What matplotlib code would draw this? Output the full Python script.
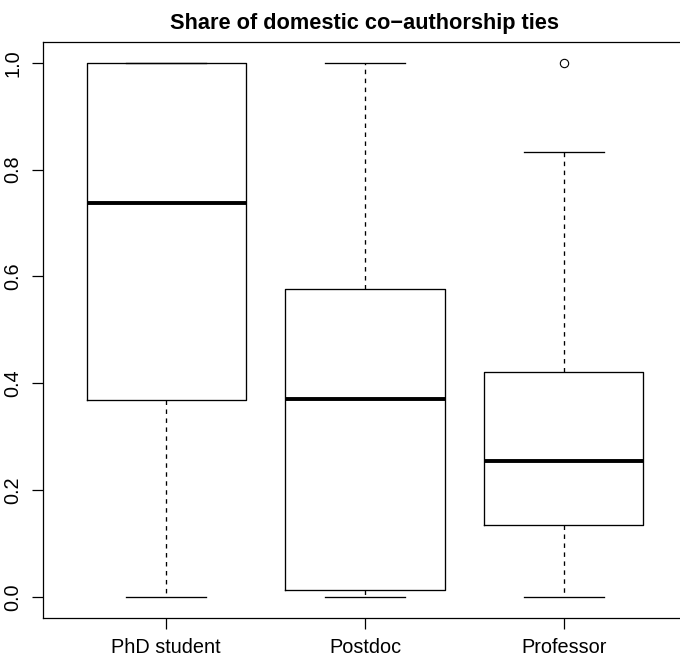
import matplotlib
matplotlib.use("Agg")
import matplotlib.pyplot as plt

plt.rcParams['font.family'] = ['Liberation Sans', 'DejaVu Sans']

groups = ["PhD student", "Postdoc", "Professor"]
whisker_low = [0.0, 0.0, 0.0]
q1 = [0.369, 0.0125, 0.135]
median = [0.737, 0.370, 0.255]
q3 = [1.0, 0.577, 0.421]
whisker_high = [1.0, 1.0, 0.833]
outliers = [[], [], [1.0]]

stats = []
for i in range(len(groups)):
    stats.append({"label": groups[i], "whislo": whisker_low[i], "q1": q1[i],
                  "med": median[i], "q3": q3[i], "whishi": whisker_high[i],
                  "fliers": outliers[i]})

fig = plt.figure(figsize=(6.8, 6.57), dpi=100)
# the right edge of the plot box is cut off in the reference
ax = fig.add_axes([43 / 680, 1 - 618.2 / 657, 644 / 680, 576.7 / 657])

lw = 0.95
ax.bxp(stats, positions=[1, 2, 3], widths=0.8, showfliers=True,
       boxprops=dict(color="black", linewidth=lw),
       medianprops=dict(color="black", linewidth=2.8, solid_capstyle="butt"),
       whiskerprops=dict(color="black", linewidth=lw, linestyle=(0, (3.4, 3.4))),
       capprops=dict(color="black", linewidth=lw),
       capwidths=0.4,
       flierprops=dict(marker="o", markerfacecolor="none", markeredgecolor="black",
                       markersize=6, markeredgewidth=0.8))

ax.set_xlim(0.38, 3.62)
ax.set_ylim(-0.04, 1.04)
ax.set_yticks([0.0, 0.2, 0.4, 0.6, 0.8, 1.0])
ax.set_yticklabels(["0.0", "0.2", "0.4", "0.6", "0.8", "1.0"], rotation=90, va="center")
ax.set_xticks([1, 2, 3])
ax.set_xticklabels(groups)
ax.tick_params(axis="both", labelsize=14.3, length=8, width=0.9, color="black")
ax.tick_params(axis="x", pad=6)
ax.tick_params(axis="y", pad=7)
for s in ax.spines.values():
    s.set_linewidth(0.9)

fig.suptitle("Share of domestic co\u2212authorship ties", x=365 / 680, y=1 - 23 / 657,
             va="center", fontsize=15.7, fontweight="bold")

fig.savefig("out.png", dpi=100)
